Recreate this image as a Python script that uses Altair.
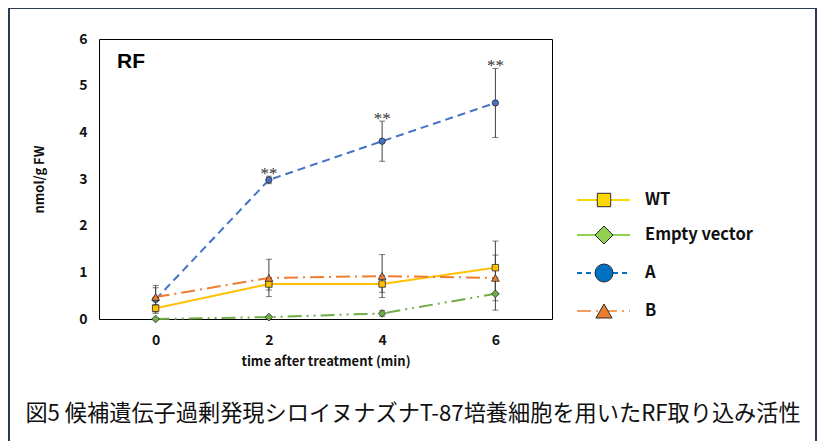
import altair as alt
import pandas as pd

# ---- data ----
times = [0, 2, 4, 6]
series = ["WT", "Empty vector", "A", "B"]
wt = [0.23, 0.75, 0.75, 1.10]
wt_err = [0.08, 0.13, 0.18, 0.57]
empty = [0.00, 0.04, 0.12, 0.54]
empty_err = [0.00, 0.02, 0.06, 0.35]
a_vals = [0.42, 2.98, 3.81, 4.63]
a_err = [0.30, 0.08, 0.43, 0.74]
b_vals = [0.47, 0.88, 0.92, 0.88]
b_err = [0.20, 0.40, 0.46, 0.49]
a_sig = ["", "**", "**", "**"]
panel_label = "RF"
x_title = "time after treatment (min)"
y_title = "nmol/g FW"
caption = "図5 候補遺伝子過剰発現シロイヌナズナT-87培養細胞を用いたRF取り込み活性"

values = {"WT": (wt, wt_err), "Empty vector": (empty, empty_err),
          "A": (a_vals, a_err), "B": (b_vals, b_err)}

style = {
    "WT": dict(line="#FFC000", fill="#FFC000", lfill="#FFD700", lline="#FFD700",
               shape="square", dash=[1, 0], ldash=[1, 0], size=42, lsize=180),
    "Empty vector": dict(line="#70AD47", fill="#70AD47", lfill="#92D050", lline="#92D050",
                         shape="diamond", dash=[14, 5, 2, 5, 2, 5], ldash=[1, 0], size=60, lsize=324),
    "A": dict(line="#4472C4", fill="#4472C4", lfill="#0070C0", lline="#0070C0",
              shape="circle", dash=[8, 5], ldash=[5, 4], size=40, lsize=324),
    "B": dict(line="#ED7D31", fill="#ED7D31", lfill="#ED7D31", lline="#F4A060",
              shape="triangle-up", dash=[14, 5, 2, 5], ldash=[14, 5, 2, 5], size=60, lsize=260),
}

W, H = 453, 280
FONT = "Noto Sans CJK JP"

xs = alt.Scale(domain=[-1, 7], nice=False)
ys = alt.Scale(domain=[0, 6], nice=False)
x_enc = alt.X("t:Q", scale=xs, axis=alt.Axis(values=times, title=x_title))
y_enc = alt.Y("v:Q", scale=ys, axis=alt.Axis(values=[0, 1, 2, 3, 4, 5, 6], title=y_title))

err_layers, line_layers, point_layers = [], [], []
for s in series:
    v, e = values[s]
    df = pd.DataFrame({"t": times, "v": v,
                       "lo": [a - b for a, b in zip(v, e)],
                       "hi": [a + b for a, b in zip(v, e)]})
    st = style[s]
    base = alt.Chart(df)
    err_layers.append(base.mark_rule(color="#404040", strokeWidth=1).encode(
        x=x_enc, y=alt.Y("lo:Q", scale=ys), y2="hi:Q"))
    err_layers.append(base.mark_tick(orient="horizontal", size=6, thickness=1, color="#404040").encode(
        x=x_enc, y=alt.Y("lo:Q", scale=ys)))
    err_layers.append(base.mark_tick(orient="horizontal", size=6, thickness=1, color="#404040").encode(
        x=x_enc, y=alt.Y("hi:Q", scale=ys)))
    line_layers.append(base.mark_line(color=st["line"], strokeWidth=2, strokeDash=st["dash"]).encode(
        x=x_enc, y=y_enc))
    point_layers.append(base.mark_point(shape=st["shape"], size=st["size"], filled=True, fill=st["fill"],
                                        stroke="#2a2a2a", strokeWidth=0.8, opacity=1).encode(
        x=x_enc, y=y_enc))

sig_df = pd.DataFrame({"t": times, "hi": [a + b for a, b in zip(a_vals, a_err)], "sig": a_sig})
sig = alt.Chart(sig_df).mark_text(font="Liberation Serif", fontSize=17, color="#333333",
                                  baseline="alphabetic", dy=3).encode(
    x=x_enc, y=alt.Y("hi:Q", scale=ys), text="sig:N")

rf = alt.Chart(pd.DataFrame({"label": [panel_label]})).mark_text(
    align="left", baseline="middle", fontSize=21, fontWeight="bold", font="Liberation Sans",
    color="#000000").encode(x=alt.value(18), y=alt.value(23), text="label:N")

# legend (decoration)
leg_layers = []
leg_y = [161, 196, 234, 272]
for i, s in enumerate(series):
    st = style[s]
    d = alt.Chart(pd.DataFrame({"name": [s]}))
    leg_layers.append(d.mark_rule(color=st["lline"], strokeWidth=2, strokeDash=st["ldash"]).encode(
        x=alt.value(478), x2=alt.value(531), y=alt.value(leg_y[i])))
    leg_layers.append(d.mark_point(shape=st["shape"], size=st["lsize"], filled=True, fill=st["lfill"],
                                   stroke="#2a2a2a", strokeWidth=1, opacity=1).encode(
        x=alt.value(505), y=alt.value(leg_y[i])))
    leg_layers.append(d.mark_text(align="left", baseline="middle", fontSize=16.5, fontWeight="bold",
                                  font=FONT, color="#111111").encode(
        x=alt.value(546), y=alt.value(leg_y[i]), text="name:N"))

cap = alt.Chart(pd.DataFrame({"c": [caption]})).mark_text(
    align="center", baseline="middle", fontSize=22.2, font=FONT, color="#111111").encode(
    x=alt.value(314), y=alt.value(375), text="c:N")

frame = alt.Chart(pd.DataFrame({"f": [1]})).mark_rect(
    fillOpacity=0, stroke="#2B3A55", strokeWidth=2).encode(
    x=alt.value(-90), x2=alt.value(717), y=alt.value(-31), y2=alt.value(500))

chart = alt.layer(*err_layers, *line_layers, *point_layers, sig, rf, *leg_layers, cap, frame).properties(
    width=W, height=H,
    autosize=alt.AutoSizeParams(type="none"),
    padding={"left": 91, "top": 31, "right": 266, "bottom": 122},
).configure_view(stroke="#000000", strokeWidth=1).configure_axis(
    grid=False, ticks=False, domain=False,
    labelFont=FONT, labelFontSize=14, labelFontWeight="bold", labelColor="#111111",
    titleFont=FONT, titleFontSize=13, titleFontWeight="bold", titleColor="#111111",
).configure_axisX(labelPadding=14, titlePadding=8).configure_axisY(labelPadding=12, titlePadding=32)

chart.save("out.html", embed_options={"renderer": "svg", "actions": False})
